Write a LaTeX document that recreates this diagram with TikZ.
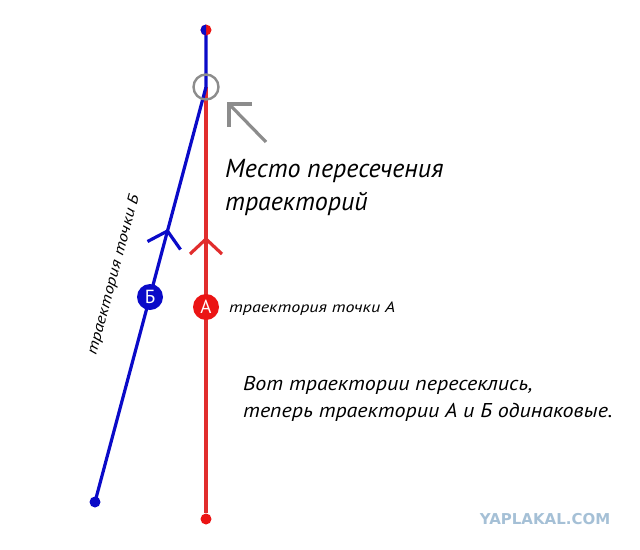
\documentclass[tikz,border=0pt]{standalone}
\usepackage{fontspec}
\setmainfont{PT Sans}
\newfontfamily\hand{PT Sans Italic}
\newfontfamily\wm{DejaVu Sans}
\usetikzlibrary{calc}
\definecolor{tblue}{RGB}{10,10,200}
\definecolor{tred}{RGB}{225,45,45}
\definecolor{dred}{RGB}{235,20,20}
\definecolor{tgray}{RGB}{140,140,140}
\definecolor{wmblue}{RGB}{165,192,214}
\begin{document}
\begin{tikzpicture}[x=1pt,y=-1pt,
  bline/.style={tblue,line width=3.2pt},
  rline/.style={tred,line width=3.2pt},
  enddot/.style={circle,inner sep=0pt,minimum size=11pt},
  letterdot/.style={circle,inner sep=0pt,minimum size=26pt,text=white,font=\fontsize{19}{19}\selectfont},
  handtxt/.style={font=\hand,anchor=base west,inner sep=0pt},
]
\useasboundingbox (0,0) rectangle (640,549);
% points
\coordinate (top) at (206,30);
\coordinate (cross) at (206,87);
\node[enddot,fill=tblue] (bend) at (95,502) {};
\node[enddot,fill=dred] (rend) at (206,519) {};
% trajectories
\draw[rline] (cross) -- (rend);
\draw[bline] (top) -- (cross) -- (bend.center);
% top dot half/half
\fill[dred] (top) circle (5.5pt);
\fill[tblue] ($(top)+(0,-5.5)$) arc[start angle=90,end angle=270,radius=5.5pt] -- cycle;
\node[enddot] (topdot) at (top) {};
% chevrons
\coordinate (ra) at (206,239);
\draw[rline,line join=miter] (190,254) -- (ra) -- (222,254);
\coordinate (ba) at (167.5,231);
\draw[bline,line join=miter] (147.5,241.5) -- (ba) -- (180.5,249.5);
% letter circles
\node[letterdot,fill=tblue] (B) at (150,297) {Б};
\node[letterdot,fill=dred] (A) at (206,307) {А};
% crossing marker
\node[circle,draw=tgray,line width=2.4pt,minimum size=25pt,inner sep=0pt] (mark) at (cross) {};
\coordinate (ah) at (229,104);
\draw[tgray,line width=3.2pt,line join=miter] (252,104) -- (ah) -- (229,127);
\draw[tgray,line width=3.2pt] (ah) -- (266,142);
% texts
\node[handtxt,font=\hand\fontsize{26}{26}\selectfont] (t1) at (225,177) {Место пересечения};
\node[handtxt,font=\hand\fontsize{26}{26}\selectfont] (t2) at (225,210) {траекторий};
\node[handtxt,font=\hand\fontsize{15}{15}\selectfont,xscale=1.2] (la) at (229,312) {траектория точки А};
\node[font=\hand\fontsize{15}{15}\selectfont,rotate=75,xscale=1.2,inner sep=0pt] (lb) at (114,275) {траектория точки Б};
\node[handtxt,font=\hand\fontsize{20}{20}\selectfont,xscale=1.1] (t3) at (243,390) {Вот траектории пересеклись,};
\node[handtxt,font=\hand\fontsize{20}{20}\selectfont,xscale=1.1] (t4) at (243,417) {теперь траектории А и Б одинаковые.};
\node[font=\wm\bfseries\fontsize{15}{15}\selectfont,text=wmblue,inner sep=0pt] (wm) at (545,519) {YAPLAKAL.COM};
\end{tikzpicture}
\end{document}
